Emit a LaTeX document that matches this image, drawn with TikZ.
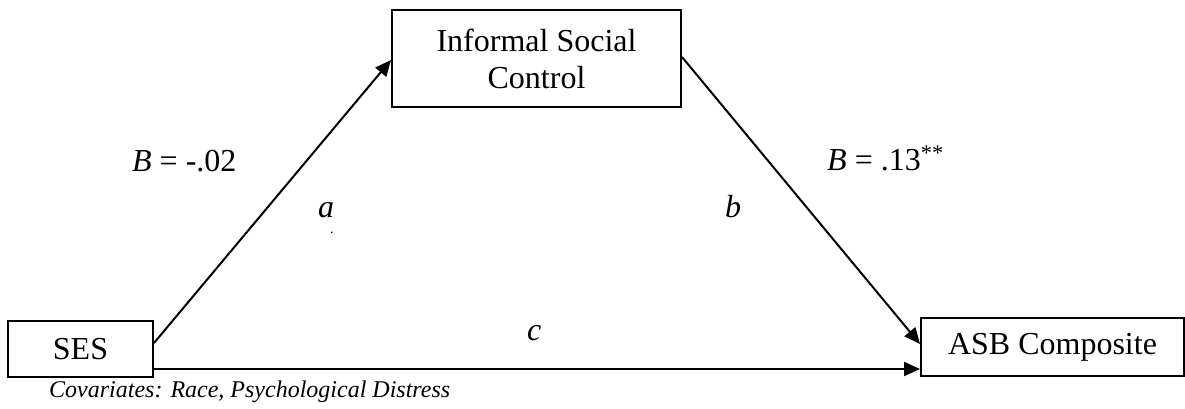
\documentclass[tikz,border=0pt]{standalone}
\usepackage{fontspec}
\setmainfont{Liberation Serif}
\usetikzlibrary{arrows.meta}
\begin{document}
\begin{tikzpicture}[x=1pt,y=-1pt,
  varbox/.style={draw=black,line width=2pt,inner sep=0pt,align=center,
    font=\fontsize{32}{37}\selectfont},
  path/.style={line width=2pt,-{Triangle[length=16pt,width=14pt]}},
  lbl/.style={inner sep=0pt,anchor=base west,font=\fontsize{32}{37}\selectfont},
  note/.style={inner sep=0pt,anchor=base west,font=\fontsize{24}{28}\selectfont\itshape}]
\useasboundingbox (0,0) rectangle (1185,409);
\node[varbox,minimum width=145pt,minimum height=56pt] (ses) at (80.5,349) {SES};
\node[varbox,minimum width=289pt,minimum height=97pt] (isc) at (536.5,58.5) {Informal Social\\Control};
\node[varbox,minimum width=263pt,minimum height=58pt] (asb) at (1052.5,347) {ASB Composite};
\draw[path] ([yshift=6pt]ses.east) -- ([yshift=-1.5pt]isc.west);
\draw[path] ([yshift=1.5pt]isc.east) -- ([yshift=3pt]asb.west);
\draw[path] ([yshift=-20pt]ses.east) -- ([yshift=-22pt]asb.west);
\node[lbl] (la) at (132,171) {\textit{B} = -.02};
\node[lbl] (lb) at (827,170) {\textit{B} = .13\textsuperscript{**}};
\node[lbl] (a) at (318,217) {\textit{a}};
\node[inner sep=0pt,anchor=base west,font=\fontsize{14}{16}\selectfont] (dot) at (330,233) {.};
\node[lbl] (b) at (725,217) {\textit{b}};
\node[lbl] (c) at (527,340) {\textit{c}};
\node[note] (cov) at (49,397) {Covariates: Race, Psychological Distress};
\end{tikzpicture}
\end{document}
